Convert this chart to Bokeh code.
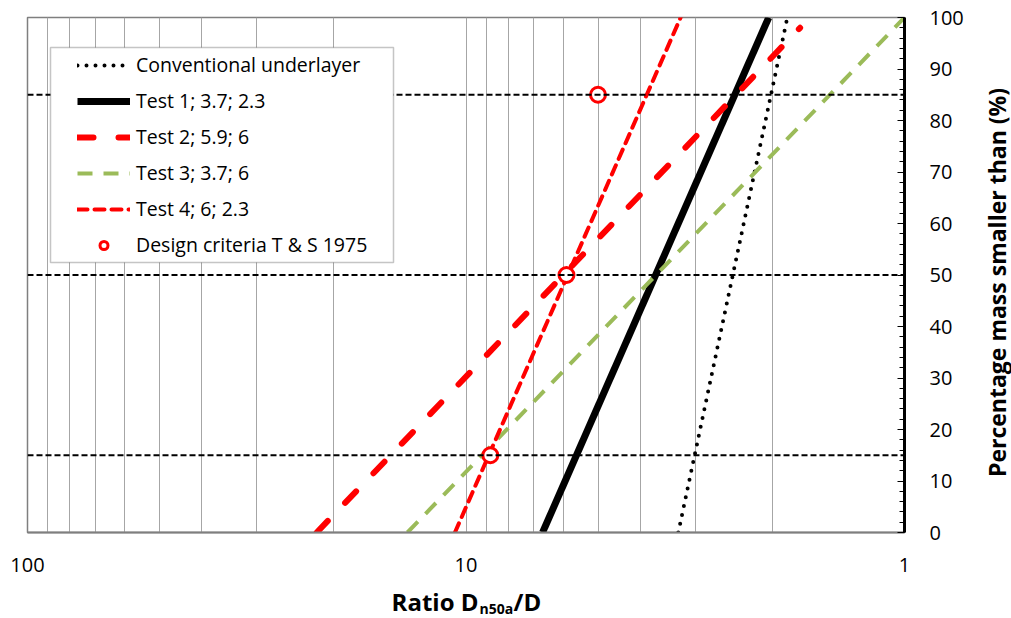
import numpy as np
from bokeh.plotting import figure
from bokeh.layouts import row, column
from bokeh.models import (Range1d, FixedTicker, SingleIntervalTicker, PrintfTickFormatter,
                          Span, Legend, LegendItem, BoxAnnotation, Label)
from bokeh.embed import file_html
from bokeh.resources import INLINE

# ---------------- data ----------------
y_ends = [0, 100]
conv_x = [3.28, 1.85]          # Conventional underlayer
test1_x = [6.69, 2.04]         # Test 1; 3.7; 2.3
test2_x = [21.9, 1.73]         # Test 2; 5.9; 6
test2_y = [0, 98]
test3_x = [13.6, 1.0]          # Test 3; 3.7; 6
test4_x = [10.6, 3.24]         # Test 4; 6; 2.3
design_x = [8.8, 5.9, 5.0]     # Design criteria T & S 1975
design_y = [15, 50, 85]
ref_levels = [15, 50, 85]
x_tick_values = [1, 10, 100]
x_grid_values = [2, 3, 4, 5, 6, 7, 8, 9, 10, 20, 30, 40, 50, 60, 70, 80, 90]
labels = ["Conventional underlayer", "Test 1; 3.7; 2.3", "Test 2; 5.9; 6",
          "Test 3; 3.7; 6", "Test 4; 6; 2.3", "Design criteria T & S 1975"]
x_title_parts = ["Ratio D", "n50a", "/D"]
y_title = "Percentage mass smaller than (%)"

FONT = "Open Sans"
RED = "#ff0000"
GREEN = "#9bbb59"
MAIN_W = 976

p = figure(width=MAIN_W, height=578, x_axis_type="log",
           x_range=Range1d(100, 1), y_range=Range1d(0, 100),
           y_axis_location="right", output_backend="svg", toolbar_location=None,
           min_border_left=27, min_border_top=17, min_border_right=72, min_border_bottom=46)
p.background_fill_color = "white"
p.border_fill_color = "white"
p.outline_line_color = "#7f7f7f"
p.outline_line_width = 1.5

# grid
p.xgrid.ticker = FixedTicker(ticks=x_grid_values)
p.xgrid.grid_line_color = "#a6a6a6"
p.xgrid.grid_line_width = 1
p.ygrid.grid_line_color = None

# x axis
xa = p.xaxis[0]
xa.ticker = FixedTicker(ticks=x_tick_values, minor_ticks=[])
xa.formatter = PrintfTickFormatter(format="%d")
xa.major_tick_line_color = None
xa.minor_tick_line_color = None
xa.axis_line_color = "#7f7f7f"
xa.axis_line_width = 2
xa.major_label_text_font = FONT
xa.major_label_text_font_size = "20px"
xa.major_label_text_color = "black"
xa.major_label_standoff = 19

# y axis (right)
ya = p.yaxis[0]
ya.ticker = SingleIntervalTicker(interval=10, num_minor_ticks=5)
ya.axis_line_color = "black"
ya.axis_line_width = 3
ya.major_tick_in = 7
ya.major_tick_out = 0
ya.minor_tick_in = 5
ya.minor_tick_out = 0
ya.major_tick_line_color = "black"
ya.minor_tick_line_color = "black"
ya.major_label_text_font = FONT
ya.major_label_text_font_size = "20px"
ya.major_label_text_color = "black"
ya.major_label_standoff = 25

# reference horizontal dashed lines
for lv in ref_levels:
    p.add_layout(Span(location=lv, dimension="width", line_color="black",
                      line_width=2, line_dash="6 3"))

# series
r_conv = p.line(conv_x, y_ends, line_color="black", line_width=4, line_dash="0 9",
                line_cap="round")
r_t1 = p.line(test1_x, y_ends, line_color="black", line_width=7)
r_t2 = p.line(test2_x, test2_y, line_color=RED, line_width=6, line_dash="16 25",
              line_cap="round")
r_t3 = p.line(test3_x, y_ends, line_color=GREEN, line_width=4, line_dash="15 11")
r_t4 = p.line(test4_x, y_ends, line_color=RED, line_width=4, line_dash="10 7",
              line_cap="round")
r_des = p.scatter(design_x, design_y, marker="circle", size=15, line_color=RED,
                  line_width=3, fill_color="white")

# legend box
p.add_layout(BoxAnnotation(left=23, right=366, bottom=270, top=485,
                           left_units="screen", right_units="screen",
                           bottom_units="screen", top_units="screen",
                           fill_color="white", fill_alpha=1.0,
                           line_color="#404040", line_width=1.5))

legend = Legend(items=[LegendItem(label=l, renderers=[r]) for l, r in
                       zip(labels, [r_conv, r_t1, r_t2, r_t3, r_t4, r_des])],
                location=(50, 274), orientation="vertical",
                glyph_width=53, glyph_height=20, label_height=20, spacing=9,
                label_standoff=6, padding=0, margin=0,
                border_line_alpha=0, background_fill_alpha=0,
                label_text_font=FONT, label_text_font_size="19.5px",
                label_text_color="black")
p.add_layout(legend, "center")


def strip(w, h):
    s = figure(width=w, height=h, x_range=Range1d(0, 1), y_range=Range1d(0, 1),
               x_axis_location=None, y_axis_location=None, output_backend="svg",
               toolbar_location=None, min_border=0)
    s.outline_line_color = None
    s.grid.visible = False
    s.background_fill_color = "white"
    s.border_fill_color = "white"
    return s


# x axis title strip (below the chart; its frame is aligned with the chart's frame)
bx = strip(MAIN_W, 40)
bx.add_layout(Label(x=451, y=17, x_units="screen", y_units="screen", text=x_title_parts[0],
                    text_font=FONT, text_font_style="bold", text_font_size="24px",
                    text_align="right", text_baseline="alphabetic", text_color="black"))
bx.add_layout(Label(x=452, y=10, x_units="screen", y_units="screen", text=x_title_parts[1],
                    text_font=FONT, text_font_style="bold", text_font_size="14px",
                    text_align="left", text_baseline="alphabetic", text_color="black"))
bx.add_layout(Label(x=486, y=17, x_units="screen", y_units="screen", text=x_title_parts[2],
                    text_font=FONT, text_font_style="bold", text_font_size="24px",
                    text_align="left", text_baseline="alphabetic", text_color="black"))

# y axis title strip (right of the chart)
ry = strip(1011 - MAIN_W, 618)
ry.add_layout(Label(x=20, y=336, x_units="screen", y_units="screen", text=y_title,
                    angle=np.pi / 2, text_font=FONT, text_font_style="bold",
                    text_font_size="23px", text_align="center", text_baseline="middle",
                    text_color="black"))

layout = row(column(p, bx, spacing=0), ry, spacing=0)

open("out.html", "w").write(file_html(layout, INLINE))
